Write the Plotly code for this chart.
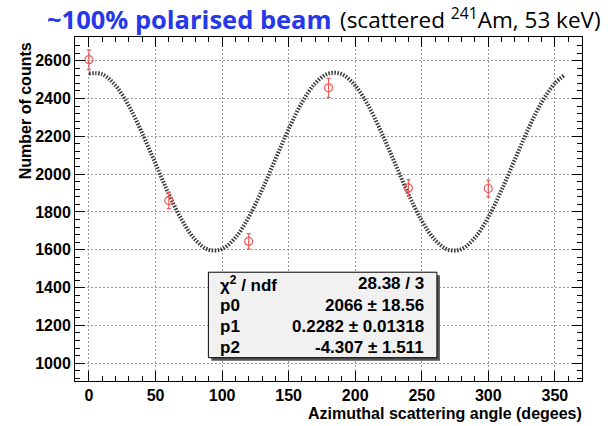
import plotly.graph_objects as go

# ---- data ----
angles = [0, 60, 120, 180, 240, 300]
counts = [2605, 1860, 1644, 2456, 1927, 1924]
count_errors = [51, 43, 41, 50, 44, 44]

fit_angles = [0, 10, 20, 30, 40, 50, 60, 70, 80, 90, 100, 110, 120, 130, 140, 150, 160, 170,
              180, 190, 200, 210, 220, 230, 240, 250, 260, 270, 280, 290, 300, 310, 320, 330,
              340, 350, 357]
fit_counts = [2532, 2528, 2468, 2360, 2216, 2055, 1894, 1754, 1652, 1600, 1604, 1664, 1772,
              1916, 2078, 2238, 2378, 2480, 2532, 2528, 2468, 2360, 2216, 2055, 1894, 1754,
              1652, 1600, 1604, 1664, 1772, 1916, 2078, 2238, 2378, 2480, 2522]

stat_labels = ["χ<sup>2</sup> / ndf", "p0", "p1", "p2"]
stat_values = ["28.38 / 3", "2066 ± 18.56", "0.2282 ± 0.01318", "-4.307 ± 1.511"]

x_ticks = [0, 50, 100, 150, 200, 250, 300, 350]
y_ticks = [1000, 1200, 1400, 1600, 1800, 2000, 2200, 2400, 2600]

# ---- layout geometry (pixels) ----
W, H = 613, 426
L, R, T, B = 75, 581.7, 37.3, 381


def px(x):
    return (x - L) / (R - L)


def py(y):
    return (B - y) / (B - T)


FONT = "Liberation Sans, Arial, sans-serif"
TFONT = "Open Sans, Lato, sans-serif"
RED = "#ee5a5a"

fig = go.Figure()

fig.add_trace(go.Scatter(
    x=fit_angles, y=fit_counts, mode="lines",
    line=dict(color="#3a3a3a", width=4, dash="1.5px,1.5px", shape="spline", smoothing=1.0),
    hoverinfo="skip", showlegend=False,
))

fig.add_trace(go.Scatter(
    x=angles, y=counts, mode="markers",
    marker=dict(symbol="circle-open", size=8, color=RED, line=dict(width=1.2, color=RED)),
    error_y=dict(type="data", array=count_errors, color=RED, thickness=1.2, width=2),
    showlegend=False,
))

axis_common = dict(
    showline=True, linecolor="black", linewidth=1, mirror="allticks",
    ticks="inside", ticklen=10, tickwidth=1, tickcolor="black",
    showgrid=True, gridcolor="#9a9a9a", gridwidth=1, griddash="2px,2px",
    zeroline=False,
    tickfont=dict(family=FONT, size=16, color="black", weight="bold"),
)

fig.update_xaxes(
    range=[-10.5, 370.4], tickvals=x_ticks,
    minor=dict(ticks="inside", ticklen=5, dtick=10, tick0=0, tickcolor="black", showgrid=False),
    **axis_common,
)
fig.update_yaxes(
    range=[906, 2725], tickvals=y_ticks,
    minor=dict(ticks="inside", ticklen=5, dtick=40, tick0=1000, tickcolor="black", showgrid=False),
    **axis_common,
)

shapes = []
# stats box shadow and box
bx0, by0, bx1, by1 = 208.3, 272.3, 436.7, 357.7
shapes.append(dict(type="rect", xref="paper", yref="paper",
                   x0=px(bx0 + 3), x1=px(bx1 + 3), y0=py(by1 + 3), y1=py(by0 + 3),
                   fillcolor="#555555", line=dict(width=0), layer="above"))
shapes.append(dict(type="rect", xref="paper", yref="paper",
                   x0=px(bx0), x1=px(bx1), y0=py(by1), y1=py(by0),
                   fillcolor="#f1f1f1", line=dict(color="black", width=1), layer="above"))

annotations = []
row_y = [284, 306, 327, 348]
for lab, val, yy in zip(stat_labels, stat_values, row_y):
    annotations.append(dict(xref="paper", yref="paper", x=px(218), y=py(yy), text="<b>" + lab + "</b>",
                            xanchor="left", yanchor="middle", showarrow=False,
                            font=dict(family=FONT, size=17, color="black")))
    annotations.append(dict(xref="paper", yref="paper", x=px(426), y=py(yy), text="<b>" + val + "</b>",
                            xanchor="right", yanchor="middle", showarrow=False,
                            font=dict(family=FONT, size=17, color="black")))

# axis titles (right aligned like ROOT)
annotations.append(dict(xref="paper", yref="paper", x=px(583.5), y=py(413),
                        text="<b>Azimuthal scattering angle (degees)</b>",
                        xanchor="right", yanchor="middle", showarrow=False,
                        font=dict(family=FONT, size=16, color="black")))
annotations.append(dict(xref="paper", yref="paper", x=px(25.5), y=py(111),
                        text="<b>Number of counts</b>", textangle=-90,
                        xanchor="center", yanchor="middle", showarrow=False,
                        font=dict(family=FONT, size=16, color="black")))

# title in two parts
annotations.append(dict(xref="paper", yref="paper", x=px(334), y=py(19),
                        text="<b>~100% polarised beam</b>",
                        xanchor="right", yanchor="middle", showarrow=False,
                        font=dict(family=TFONT, size=25.5, color="#2638ea")))
annotations.append(dict(xref="paper", yref="paper", x=px(603), y=py(19),
                        text="(scattered <sup>241</sup>Am, 53 keV)",
                        xanchor="right", yanchor="middle", showarrow=False,
                        font=dict(family=TFONT, size=22.5, color="black")))

fig.update_layout(
    width=W, height=H,
    margin=dict(l=L, r=W - R, t=T, b=H - B, autoexpand=False),
    paper_bgcolor="white", plot_bgcolor="white",
    shapes=shapes, annotations=annotations,
    showlegend=False,
)

fig.write_html("out.html")
